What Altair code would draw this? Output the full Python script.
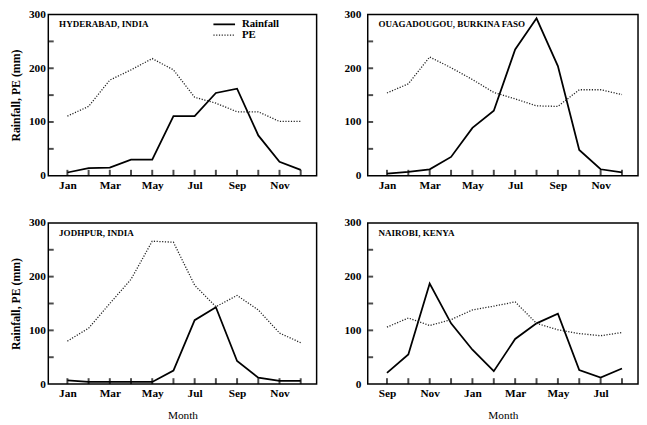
import altair as alt
import pandas as pd

month_idx = list(range(1, 13))
cal_months = ["Jan", "Feb", "Mar", "Apr", "May", "Jun", "Jul", "Aug", "Sep", "Oct", "Nov", "Dec"]
nairobi_months = ["Sep", "Oct", "Nov", "Dec", "Jan", "Feb", "Mar", "Apr", "May", "Jun", "Jul", "Aug"]
series = ["Rainfall", "PE"]

hyd_rain = [6, 14, 15, 30, 30, 111, 111, 154, 162, 75, 26, 11]
hyd_pe = [111, 129, 178, 197, 218, 197, 146, 135, 119, 119, 101, 101]
oua_rain = [4, 7, 12, 35, 89, 121, 235, 293, 204, 48, 12, 6]
oua_pe = [154, 171, 221, 201, 179, 155, 143, 130, 129, 160, 160, 151]
jod_rain = [7, 4, 4, 4, 4, 25, 119, 143, 43, 12, 6, 6]
jod_pe = [80, 104, 150, 195, 266, 264, 184, 144, 165, 138, 95, 77]
nai_rain = [21, 55, 187, 113, 64, 24, 84, 113, 131, 26, 12, 29]
nai_pe = [106, 123, 109, 120, 138, 145, 153, 113, 101, 94, 90, 96]

y_labels = [0, 100, 200, 300]
y_minor = [50, 100, 150, 200, 250]

H = 164
SERIF = "Liberation Serif"
PE_DASH = [1.2, 1.6]


def panel(title, labels, rain, pe, left, bottom, legend, W):
    xscale = alt.Scale(domain=[0.1, 12.75], nice=False, zero=False)
    yscale = alt.Scale(domain=[0, 300], nice=False)
    arr = "[" + ",".join("'%s'" % l for l in labels) + "]"
    xkw = dict(values=month_idx, orient="bottom",
               labelExpr="datum.value %% 2 == 1 ? %s[datum.value - 1] : ''" % arr,
               labelPadding=4)
    if bottom:
        xkw.update(title="Month", titlePadding=11, titleFont=SERIF,
                   titleFontSize=11.5, titleFontWeight="normal")
    else:
        xkw.update(title=None)
    ykw = dict(values=y_labels, orient="left", labelPadding=3 if left else 7)
    if left:
        ykw.update(title="Rainfall, PE (mm)", titlePadding=6, titleFont=SERIF,
                   titleFontSize=12, titleFontWeight="bold")
    else:
        ykw.update(title=None)

    rain_df = pd.DataFrame({"m": month_idx, "v": rain})
    pe_df = pd.DataFrame({"m": month_idx, "v": pe})
    rain_line = alt.Chart(rain_df).mark_line(color="black", strokeWidth=1.8).encode(
        x=alt.X("m:Q", scale=xscale, axis=alt.Axis(**xkw)),
        y=alt.Y("v:Q", scale=yscale, axis=alt.Axis(**ykw)),
    )
    pe_line = alt.Chart(pe_df).mark_line(color="#222", strokeWidth=1.3, strokeDash=PE_DASH).encode(
        x=alt.X("m:Q"),
        y=alt.Y("v:Q"),
    )
    # inward tick marks along the bottom and left frame edges
    xt = alt.Chart(pd.DataFrame({"m": month_idx})).mark_tick(
        color="black", thickness=2, size=6, yOffset=-3).encode(
        x=alt.X("m:Q"), y=alt.value(H))
    yt = alt.Chart(pd.DataFrame({"v": y_minor})).mark_tick(
        color="black", thickness=2, size=5, xOffset=3).encode(
        y=alt.Y("v:Q"), x=alt.value(0))
    tt = alt.Chart(pd.DataFrame({"t": [title]})).mark_text(
        align="left", baseline="middle", font=SERIF, fontSize=9.2, fontWeight="bold", color="black"
    ).encode(text="t:N", x=alt.value(11), y=alt.value(10))
    layers = [rain_line, pe_line, xt, yt, tt]
    if legend:
        lx0, lx1, ltx = 168, 190, 197
        ry, py = 10, 21
        leg_rain = alt.Chart(pd.DataFrame({"t": [series[0]]})).mark_rule(
            color="black", strokeWidth=1.8).encode(
            x=alt.value(lx0), x2=alt.value(lx1), y=alt.value(ry))
        leg_pe = alt.Chart(pd.DataFrame({"t": [series[1]]})).mark_rule(
            color="#222", strokeWidth=1.3, strokeDash=PE_DASH).encode(
            x=alt.value(lx0), x2=alt.value(lx1), y=alt.value(py))
        txt_rain = alt.Chart(pd.DataFrame({"t": [series[0]]})).mark_text(
            align="left", baseline="middle", font=SERIF, fontSize=11, fontWeight="bold",
            color="black").encode(text="t:N", x=alt.value(ltx), y=alt.value(ry))
        txt_pe = alt.Chart(pd.DataFrame({"t": [series[1]]})).mark_text(
            align="left", baseline="middle", font=SERIF, fontSize=11, fontWeight="bold",
            color="black").encode(text="t:N", x=alt.value(ltx), y=alt.value(py))
        layers += [leg_rain, leg_pe, txt_rain, txt_pe]
    return alt.layer(*layers).properties(width=W, height=H)


p1 = panel("HYDERABAD, INDIA", cal_months, hyd_rain, hyd_pe, True, False, True, 273)
p2 = panel("OUAGADOUGOU, BURKINA FASO", cal_months, oua_rain, oua_pe, False, False, False, 275)
p3 = panel("JODHPUR, INDIA", cal_months, jod_rain, jod_pe, True, True, False, 273)
p4 = panel("NAIROBI, KENYA", nairobi_months, nai_rain, nai_pe, False, True, False, 275)

row1 = alt.hconcat(p1, p2, spacing=26)
row2 = alt.hconcat(p3, p4, spacing=26)

chart = alt.vconcat(row1, row2, spacing=24).configure_view(
    stroke="black", strokeWidth=1.5
).configure_axis(
    grid=False, domain=False, ticks=False, labelFont=SERIF, labelFontSize=11.5,
    labelFontWeight="bold", labelColor="black", titleColor="black"
).properties(padding={"left": 1, "top": -4, "right": 0, "bottom": 0}, background="white")

chart.save("out.html", embed_options={"renderer": "svg", "actions": False})
